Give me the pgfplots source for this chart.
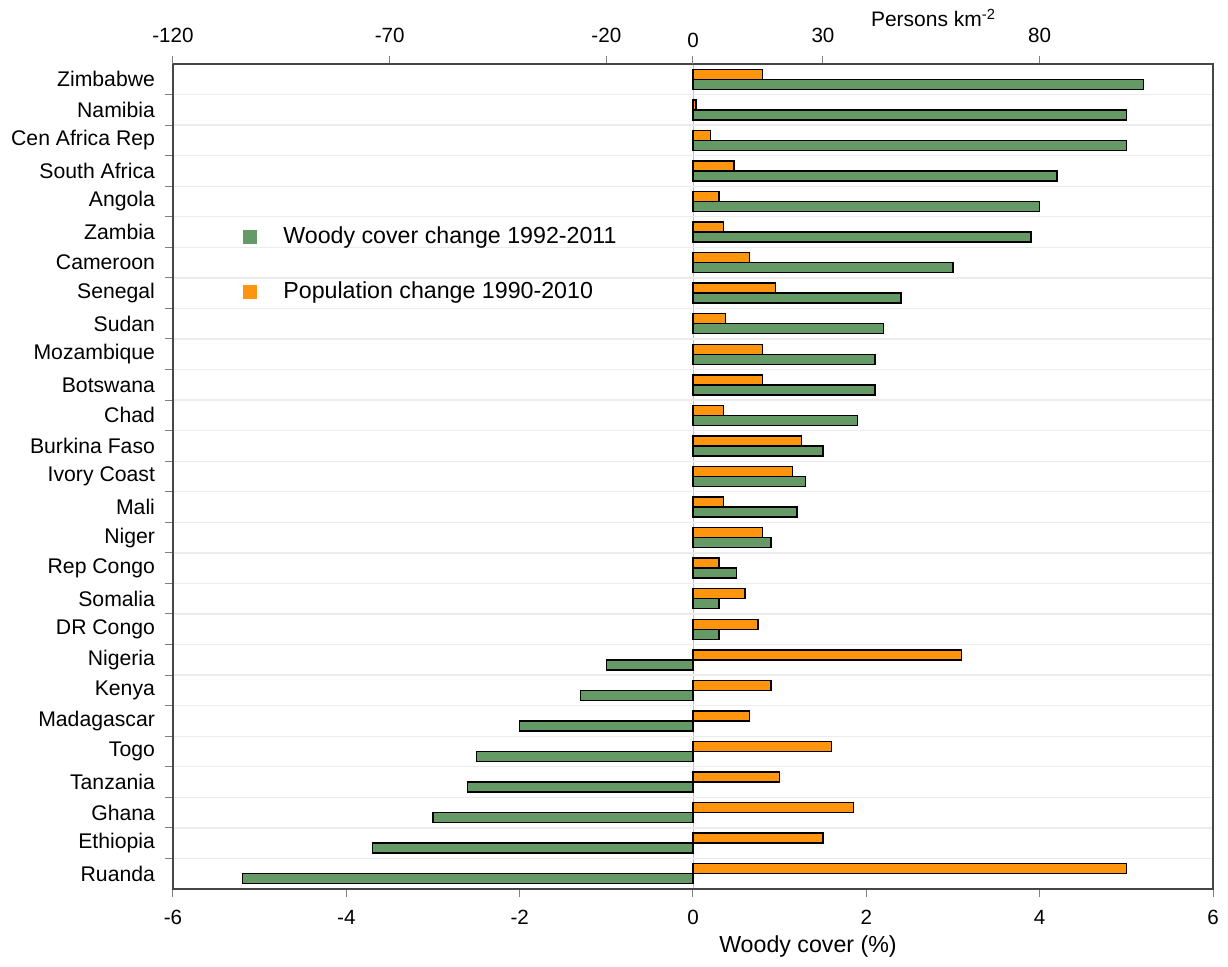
\documentclass[border=0pt]{standalone}
\usepackage{pgfplots}
\pgfplotsset{compat=1.18}
\usepackage{pgfplotstable}
\usepackage{fontspec}
\setmainfont{Liberation Sans}
\definecolor{woody}{RGB}{101,153,101}
\definecolor{popc}{RGB}{255,148,14}
\definecolor{gridc}{RGB}{236,236,236}
\definecolor{framec}{RGB}{70,70,70}

\pgfplotstableread{
idx woody pop
0  5.2  16
1  5.0  0.7
2  5.0  4
3  4.2  9.5
4  4.0  6
5  3.9  7
6  3.0  13
7  2.4  19
8  2.2  7.5
9  2.1  16
10 2.1  16
11 1.9  7
12 1.5  25
13 1.3  23
14 1.2  7
15 0.9  16
16 0.5  6
17 0.3  12
18 0.3  15
19 -1.0 62
20 -1.3 18
21 -2.0 13
22 -2.5 32
23 -2.6 20
24 -3.0 37
25 -3.7 30
26 -5.2 100
}\data

\begin{document}
\begin{tikzpicture}
\pgfplotsset{
  common/.style={
    scale only axis, width=520pt, height=412.5pt,
    ymin=-0.5, ymax=26.5, y dir=reverse,
    /pgf/number format/assume math mode=true,
    tick label style={font=\fontsize{10.3}{12}\selectfont},
    xbar, bar width=5pt,
  }
}
% ticks on the zero line
\begin{axis}[common,
  xmin=-6, xmax=6,
  axis x line=none, axis y line*=middle,
  y axis line style={gray!50, line width=0.5pt},
  ytick={0.5,1.5,...,25.5}, yticklabels={},
  tick align=center, major tick length=4pt,
  ytick style={gray!70, line width=0.5pt, xshift=-2pt},
]
\addplot[draw=none] coordinates {(0,0)};
\end{axis}

\begin{axis}[common, name=main,
  xmin=-6, xmax=6,
  xtick={-6,-4,...,6}, xtick pos=bottom,
  tick align=outside, major tick length=4pt, minor tick length=4pt,
  axis line style={framec, line width=0.8pt},
  xtick style={gray, line width=0.5pt},
  xticklabel style={yshift=-3pt},
  ytick={0,...,26}, ytick pos=left,
  yticklabels={Zimbabwe,Namibia,Cen Africa Rep,South Africa,Angola,Zambia,Cameroon,Senegal,Sudan,Mozambique,Botswana,Chad,Burkina Faso,Ivory Coast,Mali,Niger,Rep Congo,Somalia,DR Congo,Nigeria,Kenya,Madagascar,Togo,Tanzania,Ghana,Ethiopia,Ruanda},
  yticklabel style={font=\fontsize{10.6}{12.7}\selectfont, xshift=-1.5pt},
  major y tick style={draw=none},
  minor ytick={0.5,1.5,...,25.5},
  minor y tick style={gray, line width=0.5pt},
  yminorgrids, minor grid style={gridc, line width=0.7pt},
  xlabel={Woody cover (\%)},
  xlabel style={at={(rel axis cs:0.5,0)}, anchor=center, yshift=-29pt, xshift=57.5pt, font=\fontsize{11.6}{13.9}\selectfont},
  legend image code/.code={\fill[#1, draw=none] (0pt,-3.5pt) rectangle (7pt,3.5pt);},
  legend style={draw=none, fill=none, at={(rel axis cs:0.0673,0.803)}, anchor=north west,
    font=\fontsize{11.6}{13.9}\selectfont, row sep=17.5pt, inner sep=0pt,
    nodes={inner sep=0pt, anchor=west}, column sep=13pt},
  legend cell align=left,
]
\addplot[fill=woody, draw=black, line width=0.75pt, bar shift=-2.5pt] table[x=woody, y=idx]{\data};
\addlegendentry{Woody cover change 1992-2011}
\addlegendimage{fill=popc, draw=none}
\addlegendentry{Population change 1990-2010}
\end{axis}

\begin{axis}[common, clip=false,
  xmin=-120, xmax=120,
  axis x line*=top, axis y line=none,
  axis line style={framec, line width=0.8pt},
  xtick={-120,-70,-20,30,80},
  extra x ticks={0},
  extra x tick style={xticklabel style={yshift=-2.5pt}},
  tick align=outside, major tick length=4pt,
  xtick style={gray, line width=0.5pt},
  xticklabel style={yshift=3pt},
]
\addplot[fill=popc, draw=black, line width=0.75pt, bar shift=2.5pt] table[x=pop, y=idx]{\data};
\node[anchor=base west, yshift=18.5pt, font=\fontsize{10.5}{12.6}\selectfont] at (rel axis cs:0.6644,1) {Persons km\textsuperscript{-2}};
\end{axis}

\pgfresetboundingbox
\path[use as bounding box] ([shift={(-86.5pt,-39pt)}]main.south west) rectangle ([shift={(7.5pt,32pt)}]main.north east);
\end{tikzpicture}
\end{document}
